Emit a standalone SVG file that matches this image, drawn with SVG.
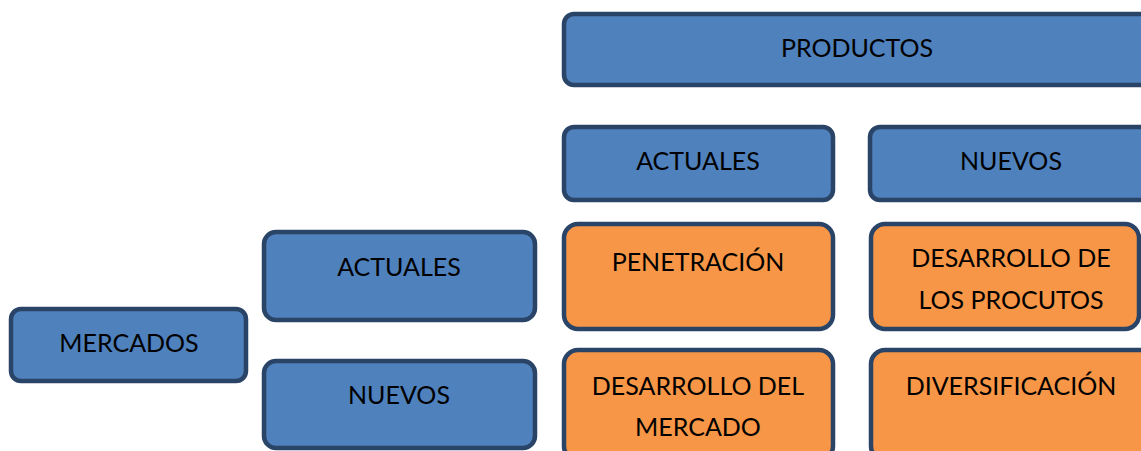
<svg xmlns="http://www.w3.org/2000/svg" width="1141" height="451" viewBox="0 0 1141 451">
<style>
.b{fill:#4F81BD;stroke:#2A4468;stroke-width:4.5}
.o{fill:#F79646;stroke:#2A4468;stroke-width:4.5}
text{font-family:Lato,"Open Sans","Liberation Sans",sans-serif;font-size:25px;fill:#000;text-anchor:middle}
</style>
<rect width="1141" height="451" fill="#fff"/>
<g id="connectors"/>
<g id="productos"><rect class="b" x="564" y="14" width="600" height="71" rx="10"/><text x="857" y="57">PRODUCTOS</text></g>
<g id="prod-actuales"><rect class="b" x="564" y="127" width="269" height="73" rx="10"/><text x="698" y="170">ACTUALES</text></g>
<g id="prod-nuevos"><rect class="b" x="870" y="127" width="290" height="73" rx="10"/><text x="1011" y="170">NUEVOS</text></g>
<g id="penetracion"><rect class="o" x="564" y="224" width="269" height="105" rx="14"/><text x="698" y="271">PENETRACIÓN</text></g>
<g id="desarrollo-productos"><rect class="o" x="871" y="224" width="268" height="105" rx="14"/><text x="1011" y="267">DESARROLLO DE</text><text x="1011" y="309">LOS PROCUTOS</text></g>
<g id="desarrollo-mercado"><rect class="o" x="564" y="350" width="269" height="110" rx="14"/><text x="698" y="395">DESARROLLO DEL</text><text x="698" y="436">MERCADO</text></g>
<g id="diversificacion"><rect class="o" x="871" y="350" width="290" height="110" rx="14"/><text x="1011" y="395">DIVERSIFICACIÓN</text></g>
<g id="merc-actuales"><rect class="b" x="264" y="232" width="271" height="88" rx="12"/><text x="399" y="276">ACTUALES</text></g>
<g id="merc-nuevos"><rect class="b" x="264" y="361" width="271" height="87" rx="12"/><text x="399" y="404">NUEVOS</text></g>
<g id="mercados"><rect class="b" x="11" y="309" width="235" height="72" rx="10"/><text x="129" y="352">MERCADOS</text></g>
</svg>
